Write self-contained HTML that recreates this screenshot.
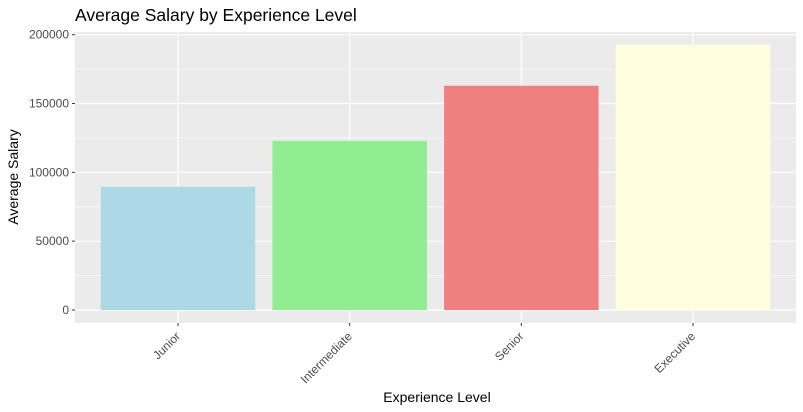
<!DOCTYPE html>
<html><head><meta charset="utf-8"><style>
body{margin:0;background:#fff}
svg{display:block;font-family:"Liberation Sans",sans-serif}
</style></head><body>
<svg id="chart" width="803" height="412">
<text x="75" y="21" font-size="17.5" fill="#000">Average Salary by Experience Level</text>
<rect x="75" y="32" width="721" height="291" fill="#ebebeb"/>
<g id="grid"></g><g id="bars"></g><g id="axes"></g>
<text x="437" y="402" font-size="14" text-anchor="middle">Experience Level</text>
<text transform="translate(18,177) rotate(-90)" font-size="14" text-anchor="middle">Average Salary</text>
</svg>
<script>
const categories=["Junior","Intermediate","Senior","Executive"];
const salaries=[89500,122900,162900,192700];
const colors=["#add8e6","#90ee90","#f08080","#ffffe0"];
const yTicks=[0,50000,100000,150000,200000];
const yTickLabels=["0","50000","100000","150000","200000"];
const NS="http://www.w3.org/2000/svg";
const L=75,R=796,T=32,B=323;
const y0=310,y200=34.7;
const y=v=>y0-(v/200000)*(y0-y200);
const step=(R-L)/(categories.length+0.2);
const x=i=>L+step*(0.6+i);
function mk(t,a,p){const e=document.createElementNS(NS,t);for(const k in a)e.setAttribute(k,a[k]);p.appendChild(e);return e;}
const g=document.getElementById('grid'),bg=document.getElementById('bars'),ax=document.getElementById('axes');
for(let i=0;i<yTicks.length-1;i++){const m=(yTicks[i]+yTicks[i+1])/2;
 const l=mk('line',{x1:L,x2:R,y1:y(m),y2:y(m),stroke:'#fff','stroke-width':0.6},g);
 
 }
yTicks.forEach((v,i)=>{
 const l=mk('line',{x1:L,x2:R,y1:y(v),y2:y(v),stroke:'#fff','stroke-width':1.2},g);
 
 
 mk('line',{x1:L-3,x2:L,y1:y(v),y2:y(v),stroke:'#333','stroke-width':1},ax);
 const t=mk('text',{x:L-6,y:y(v)+4,'font-size':12,fill:'#4d4d4d','text-anchor':'end'},ax);
 t.textContent=yTickLabels[i];
 
 
});
categories.forEach((c,i)=>{
 const l=mk('line',{x1:x(i),x2:x(i),y1:T,y2:B,stroke:'#fff','stroke-width':1.2},g);
 
 
 const w=step*0.9;
 const r=mk('rect',{x:x(i)-w/2,y:y(salaries[i]),width:w,height:y(0)-y(salaries[i]),fill:colors[i]},bg);
 
 
 mk('line',{x1:x(i),x2:x(i),y1:B,y2:B+3,stroke:'#333','stroke-width':1},ax);
 const t=mk('text',{'font-size':12,fill:'#4d4d4d','text-anchor':'end',transform:`translate(${x(i)+3},${B+14}) rotate(-45)`},ax);
 t.textContent=c;
 
 
});
</script>
</body></html>
